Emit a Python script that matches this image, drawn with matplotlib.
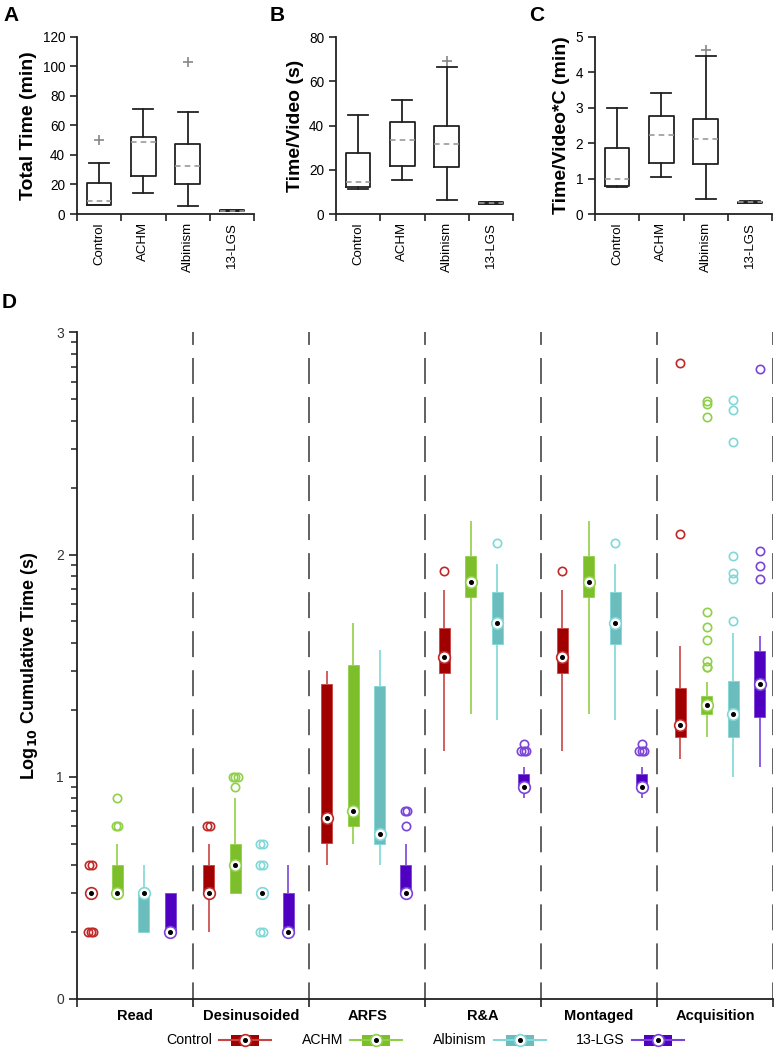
import matplotlib
matplotlib.use("Agg")
import matplotlib.pyplot as plt
import numpy as np
from matplotlib.patches import Rectangle

plt.rcParams['font.family'] = ['Liberation Sans', 'DejaVu Sans']
plt.rcParams['lines.scale_dashes'] = False

# ---------------- data: panels A-C ----------------
groups = ["Control", "ACHM", "Albinism", "13-LGS"]

total_q1 = [6.3, 25.7, 20.5, 1.9]
total_med = [9.0, 49.0, 32.5, 2.3]
total_q3 = [20.8, 52.3, 47.1, 2.8]
total_wlo = [6.0, 14.0, 5.4, 1.7]
total_whi = [34.3, 71.3, 69.0, 3.0]
total_out = [[50.1], [], [102.6], []]

video_q1 = [12.1, 21.9, 21.1, 4.6]
video_med = [14.6, 33.7, 31.7, 5.0]
video_q3 = [27.8, 41.5, 40.0, 5.4]
video_wlo = [11.2, 15.4, 6.2, 4.4]
video_whi = [45.0, 51.6, 66.7, 5.6]
video_out = [[], [], [69.4], []]

vidc_q1 = [0.80, 1.45, 1.41, 0.31]
vidc_med = [0.98, 2.24, 2.11, 0.33]
vidc_q3 = [1.85, 2.77, 2.67, 0.35]
vidc_wlo = [0.75, 1.03, 0.41, 0.30]
vidc_whi = [3.00, 3.42, 4.45, 0.36]
vidc_out = [[], [], [4.62], []]

# ---------------- data: panel D ----------------
stages = ["Read", "Desinusoided", "ARFS", "R&A", "Montaged", "Acquisition"]

control_q1 = [0.477, 0.477, 0.700, 1.465, 1.465, 1.177]
control_med = [0.477, 0.477, 0.813, 1.538, 1.538, 1.231]
control_q3 = [0.477, 0.602, 1.416, 1.670, 1.670, 1.400]
control_wlo = [0.477, 0.301, 0.602, 1.116, 1.116, 1.080]
control_whi = [0.477, 0.699, 1.477, 1.840, 1.840, 1.589]
control_out = [[0.602, 0.602, 0.301, 0.301, 0.301], [0.778, 0.778], [],
               [1.925], [1.925], [2.864, 2.092]]

achm_q1 = [0.477, 0.477, 0.778, 1.808, 1.808, 1.281]
achm_med = [0.477, 0.602, 0.846, 1.877, 1.877, 1.323]
achm_q3 = [0.602, 0.699, 1.502, 1.994, 1.994, 1.364]
achm_wlo = [0.477, 0.477, 0.699, 1.282, 1.282, 1.177]
achm_whi = [0.699, 0.903, 1.690, 2.152, 2.152, 1.427]
achm_out = [[0.778, 0.778, 0.903], [0.954, 1.0, 1.0, 1.0], [], [], [],
            [2.691, 2.677, 2.619, 1.741, 1.672, 1.615, 1.522, 1.495, 1.492]]

albinism_q1 = [0.301, 0.477, 0.699, 1.597, 1.597, 1.177]
albinism_med = [0.477, 0.477, 0.741, 1.694, 1.694, 1.281]
albinism_q3 = [0.477, 0.477, 1.408, 1.831, 1.831, 1.430]
albinism_wlo = [0.301, 0.477, 0.602, 1.255, 1.255, 1.000]
albinism_whi = [0.602, 0.477, 1.570, 1.957, 1.957, 1.645]
albinism_out = [[], [0.699, 0.699, 0.602, 0.602, 0.301, 0.301], [], [2.053], [2.053],
                [2.695, 2.650, 2.506, 1.993, 1.915, 1.888, 1.700]]

lgs_q1 = [0.301, 0.301, 0.477, 0.955, 0.955, 1.270]
lgs_med = [0.301, 0.301, 0.477, 0.955, 0.955, 1.416]
lgs_q3 = [0.477, 0.477, 0.602, 1.011, 1.011, 1.565]
lgs_wlo = [0.301, 0.301, 0.477, 0.906, 0.906, 1.042]
lgs_whi = [0.477, 0.602, 0.699, 1.042, 1.042, 1.633]
lgs_out = [[], [], [0.778, 0.845, 0.845], [1.114, 1.114, 1.114, 1.146],
           [1.114, 1.114, 1.114, 1.146], [2.833, 2.018, 1.949, 1.892]]

box_colors = ['#A00000', '#7CBF2B', '#6BBDBD', '#5000C0']
line_colors = ['#C84444', '#90D048', '#80D8D8', '#7A44D8']
ring_colors = ['#C02828', '#90D048', '#80D8D8', '#7A44D8']

# ---------------- figure ----------------
W, H = 776, 1050
fig = plt.figure(figsize=(W / 100, H / 100), dpi=100)

AXC = '#222222'


def px_axes(x0, y0, x1, y1):
    return fig.add_axes([x0 / W, 1 - y1 / H, (x1 - x0) / W, (y1 - y0) / H])


def summary_panel(ax, q1, med, q3, wlo, whi, out, ymax, ystep, ylabel):
    stats = [dict(q1=q1[i], med=med[i], q3=q3[i], whislo=wlo[i], whishi=whi[i],
                  fliers=out[i]) for i in range(len(groups))]
    pos = np.arange(len(groups)) + 0.5
    ax.bxp(stats, positions=pos, widths=0.55, capwidths=0.45, showfliers=True,
           manage_ticks=False,
           boxprops=dict(color=AXC, lw=1.3),
           whiskerprops=dict(color=AXC, lw=1.3),
           capprops=dict(color=AXC, lw=1.3),
           medianprops=dict(color='#9a9a9a', lw=1.2, ls=(0, (4, 3))),
           flierprops=dict(marker='+', markeredgecolor='#888888', markersize=7, mew=1.2))
    ax.set_xlim(0, 4)
    ax.set_ylim(0, ymax)
    ax.set_yticks(np.arange(0, ymax + 0.001, ystep))
    ax.set_xticks(np.arange(5))
    ax.set_xticklabels([])
    ax.set_xticks(pos, minor=True)
    ax.set_xticklabels(groups, minor=True, rotation=90, fontsize=9.5)
    ax.tick_params(axis='x', which='minor', length=0, pad=6)
    ax.tick_params(axis='both', which='major', direction='out', length=5, width=1.2,
                   color=AXC, labelsize=9.8)
    for s in ['top', 'right']:
        ax.spines[s].set_visible(False)
    for s in ['left', 'bottom']:
        ax.spines[s].set_linewidth(1.3)
        ax.spines[s].set_color(AXC)
    ax.set_ylabel(ylabel, fontsize=14, fontweight='bold', labelpad=4)


axA = px_axes(77, 36.7, 254, 214)
summary_panel(axA, total_q1, total_med, total_q3, total_wlo, total_whi, total_out,
              120, 20, "Total Time (min)")
axB = px_axes(336, 37.3, 513, 214)
summary_panel(axB, video_q1, video_med, video_q3, video_wlo, video_whi, video_out,
              80, 20, "Time/Video (s)")
axC = px_axes(595, 36.7, 772, 214)
summary_panel(axC, vidc_q1, vidc_med, vidc_q3, vidc_wlo, vidc_whi, vidc_out,
              5, 1, "Time/Video*C (min)")

# ---------------- panel D ----------------
axD = px_axes(77.3, 332.3, 773, 999)
series_q1 = [control_q1, achm_q1, albinism_q1, lgs_q1]
series_med = [control_med, achm_med, albinism_med, lgs_med]
series_q3 = [control_q3, achm_q3, albinism_q3, lgs_q3]
series_wlo = [control_wlo, achm_wlo, albinism_wlo, lgs_wlo]
series_whi = [control_whi, achm_whi, albinism_whi, lgs_whi]
series_out = [control_out, achm_out, albinism_out, lgs_out]

box_w = 0.095
for k in range(4):
    for g in range(len(stages)):
        x = 0.1155 + 1.017 * g + 0.2284 * k
        q1, md, q3 = series_q1[k][g], series_med[k][g], series_q3[k][g]
        lo, hi = series_wlo[k][g], series_whi[k][g]
        axD.plot([x, x], [lo, q1], color=line_colors[k], lw=1.2, zorder=2,
                 solid_capstyle='butt')
        axD.plot([x, x], [q3, hi], color=line_colors[k], lw=1.2, zorder=2,
                 solid_capstyle='butt')
        if q3 > q1:
            axD.add_patch(Rectangle((x - box_w / 2, q1), box_w, q3 - q1,
                                    facecolor=box_colors[k], edgecolor=line_colors[k],
                                    lw=0.6, zorder=3))
        vals = series_out[k][g]
        uniq = {}
        for v in vals:
            uniq[v] = uniq.get(v, 0) + 1
        for v, n in uniq.items():
            offs = (np.arange(n) - (n - 1) / 2) * 0.022
            axD.plot(x + offs, [v] * n, ls='none', marker='o', markersize=6,
                     markerfacecolor='none', markeredgecolor=ring_colors[k],
                     mew=1.2, zorder=4)
        axD.plot([x], [md], marker='o', markersize=8.4, markerfacecolor='white',
                 markeredgecolor=ring_colors[k], mew=1.2, zorder=5)
        axD.plot([x], [md], marker='o', markersize=2.6, color='black', zorder=6)

for s in range(1, len(stages) + 1):
    axD.plot([s, s], [3, 0], color='#555555', lw=1.3,
             ls=(9.4, (18.7, 9.4)), zorder=1)

axD.set_xlim(0, len(stages))
axD.set_ylim(0, 3)
axD.set_yticks([0, 1, 2, 3])
axD.set_yticks([d + np.log10(m) for d in range(3) for m in range(2, 10)], minor=True)
axD.set_xticks(np.arange(len(stages) + 1))
axD.set_xticklabels([])
axD.set_xticks(np.arange(len(stages)) + 0.5, minor=True)
axD.set_xticklabels(stages, minor=True, fontsize=10.5, fontweight='bold')
axD.tick_params(axis='x', which='minor', length=0, pad=7)
axD.tick_params(axis='both', which='major', direction='out', length=6, width=1.2,
                color=AXC, labelsize=10, labelcolor='#333333')
axD.tick_params(axis='y', which='minor', direction='out', length=4, width=1.1, color=AXC)
for s in ['top', 'right']:
    axD.spines[s].set_visible(False)
for s in ['left', 'bottom']:
    axD.spines[s].set_linewidth(1.3)
    axD.spines[s].set_color(AXC)
axD.set_ylabel("Log$_{\\mathbf{10}}$ Cumulative Time (s)", fontsize=13, fontweight='bold',
               labelpad=12)

# ---------------- panel letters ----------------
for lab, xp, yp in [("A", 3, 6), ("B", 270, 6), ("C", 529, 6), ("D", 2, 293)]:
    fig.text(xp / W, 1 - yp / H, lab, fontsize=15, fontweight='bold', va='top', ha='left')

# ---------------- legend ----------------
axL = fig.add_axes([0, 0, 1, 1], zorder=-1)
axL.set_xlim(0, W)
axL.set_ylim(H, 0)
axL.axis('off')
leg_y = 1040
leg_centers = [245, 376, 520, 658]
for k, name in enumerate(groups):
    cx = leg_centers[k]
    axL.text(cx - 33, leg_y, name, ha='right', va='center', fontsize=10.2)
    axL.plot([cx - 26, cx + 26], [leg_y, leg_y], color=line_colors[k], lw=1.5)
    axL.add_patch(Rectangle((cx - 14, leg_y - 5.5), 28, 11, facecolor=box_colors[k],
                            edgecolor='none'))
    axL.plot([cx], [leg_y], marker='o', markersize=8.4, markerfacecolor='white',
             markeredgecolor=ring_colors[k], mew=1.2)
    axL.plot([cx], [leg_y], marker='o', markersize=2.6, color='black')

fig.savefig("out.png", dpi=100)
